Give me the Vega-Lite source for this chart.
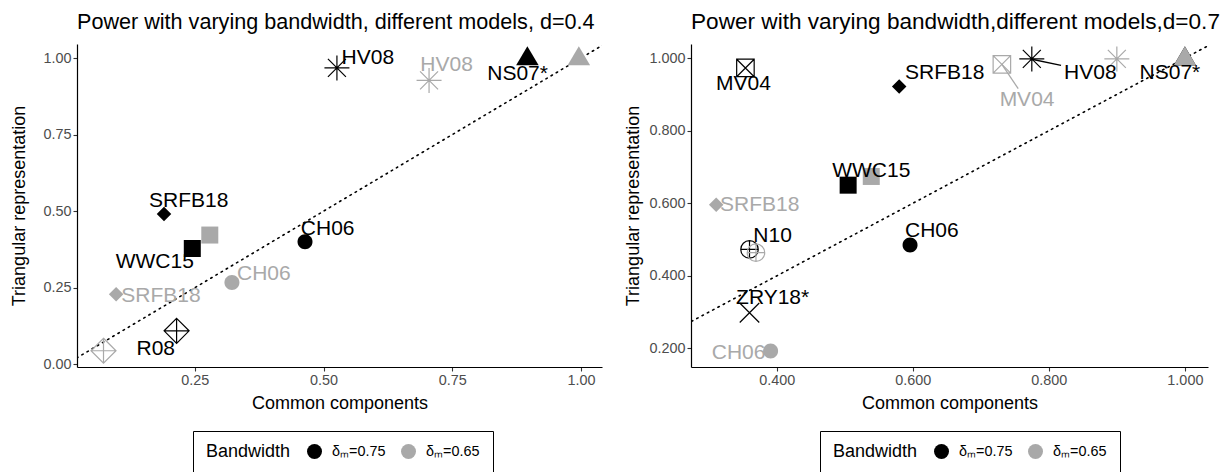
{
  "$schema": "https://vega.github.io/schema/vega-lite/v6.json",
  "padding": {"left": 10, "top": 11, "right": 5, "bottom": 5},
  "config": {
    "font": "Liberation Sans",
    "view": {"stroke": null},
    "axis": {"grid": false, "domainColor": "#000000", "domainWidth": 1.2, "tickColor": "#333333", "tickSize": 4, "tickWidth": 1.1, "labelColor": "#4d4d4d", "labelFontSize": 14.4, "labelFont": "Liberation Sans", "titleFont": "Liberation Sans", "titleFontSize": 18, "titleFontWeight": "normal", "titleColor": "#000000", "labelPadding": 2},
    "title": {"font": "Liberation Sans", "fontSize": 21.6, "fontWeight": "normal", "anchor": "start", "frame": "group", "color": "#000000", "offset": 10},
    "legend": {"orient": "none", "direction": "horizontal", "titleOrient": "left", "titleFont": "Liberation Sans", "titleFontSize": 18, "titleFontWeight": "normal", "titleColor": "#000000", "labelFont": "Liberation Sans", "labelFontSize": 14.4, "labelColor": "#000000", "strokeColor": "#000000", "padding": 13, "symbolType": "circle", "symbolSize": 225, "symbolStrokeWidth": 0, "columnPadding": 15, "labelOffset": 10, "titlePadding": 16},
    "concat": {"spacing": 22}
  },
  "datasets": {
    "p04": [
      {"model": "HV08", "bw": "δₘ=0.75", "x": 0.526, "y": 0.968},
      {"model": "NS07*", "bw": "δₘ=0.75", "x": 0.896, "y": 1.0},
      {"model": "SRFB18", "bw": "δₘ=0.75", "x": 0.19, "y": 0.491},
      {"model": "WWC15", "bw": "δₘ=0.75", "x": 0.245, "y": 0.378},
      {"model": "CH06", "bw": "δₘ=0.75", "x": 0.464, "y": 0.4},
      {"model": "R08", "bw": "δₘ=0.75", "x": 0.2145, "y": 0.109},
      {"model": "HV08", "bw": "δₘ=0.65", "x": 0.705, "y": 0.927},
      {"model": "NS07*", "bw": "δₘ=0.65", "x": 0.996, "y": 1.0},
      {"model": "WWC15", "bw": "δₘ=0.65", "x": 0.279, "y": 0.422},
      {"model": "CH06", "bw": "δₘ=0.65", "x": 0.322, "y": 0.267},
      {"model": "SRFB18", "bw": "δₘ=0.65", "x": 0.097, "y": 0.229},
      {"model": "R08", "bw": "δₘ=0.65", "x": 0.0725, "y": 0.044}
    ],
    "l04": [
      {"model": "HV08", "bw": "δₘ=0.75", "x": 0.586, "y": 1.0},
      {"model": "HV08", "bw": "δₘ=0.65", "x": 0.739, "y": 0.978},
      {"model": "NS07*", "bw": "δₘ=0.75", "x": 0.877, "y": 0.949},
      {"model": "SRFB18", "bw": "δₘ=0.75", "x": 0.238, "y": 0.534},
      {"model": "WWC15", "bw": "δₘ=0.75", "x": 0.172, "y": 0.335},
      {"model": "CH06", "bw": "δₘ=0.75", "x": 0.508, "y": 0.442},
      {"model": "CH06", "bw": "δₘ=0.65", "x": 0.384, "y": 0.294},
      {"model": "SRFB18", "bw": "δₘ=0.65", "x": 0.184, "y": 0.224},
      {"model": "R08", "bw": "δₘ=0.75", "x": 0.174, "y": 0.049}
    ],
    "p07": [
      {"model": "MV04", "bw": "δₘ=0.75", "x": 0.354, "y": 0.973},
      {"model": "HV08", "bw": "δₘ=0.75", "x": 0.775, "y": 0.998},
      {"model": "NS07*", "bw": "δₘ=0.75", "x": 1.0, "y": 1.0},
      {"model": "SRFB18", "bw": "δₘ=0.75", "x": 0.58, "y": 0.922},
      {"model": "WWC15", "bw": "δₘ=0.75", "x": 0.505, "y": 0.65},
      {"model": "CH06", "bw": "δₘ=0.75", "x": 0.596, "y": 0.485},
      {"model": "N10", "bw": "δₘ=0.75", "x": 0.36, "y": 0.473},
      {"model": "ZRY18*", "bw": "δₘ=0.75", "x": 0.36, "y": 0.2985},
      {"model": "MV04", "bw": "δₘ=0.65", "x": 0.731, "y": 0.983},
      {"model": "HV08", "bw": "δₘ=0.65", "x": 0.9, "y": 0.998},
      {"model": "NS07*", "bw": "δₘ=0.65", "x": 1.0, "y": 1.0},
      {"model": "SRFB18", "bw": "δₘ=0.65", "x": 0.311, "y": 0.596},
      {"model": "WWC15", "bw": "δₘ=0.65", "x": 0.539, "y": 0.674},
      {"model": "CH06", "bw": "δₘ=0.65", "x": 0.391, "y": 0.193},
      {"model": "N10", "bw": "δₘ=0.65", "x": 0.3695, "y": 0.464}
    ],
    "l07": [
      {"model": "MV04", "bw": "δₘ=0.75", "x": 0.351, "y": 0.929},
      {"model": "MV04", "bw": "δₘ=0.65", "x": 0.768, "y": 0.886},
      {"model": "HV08", "bw": "δₘ=0.75", "x": 0.861, "y": 0.959},
      {"model": "NS07*", "bw": "δₘ=0.75", "x": 0.978, "y": 0.959},
      {"model": "SRFB18", "bw": "δₘ=0.75", "x": 0.647, "y": 0.959},
      {"model": "WWC15", "bw": "δₘ=0.75", "x": 0.539, "y": 0.69},
      {"model": "SRFB18", "bw": "δₘ=0.65", "x": 0.375, "y": 0.596},
      {"model": "CH06", "bw": "δₘ=0.75", "x": 0.628, "y": 0.524},
      {"model": "N10", "bw": "δₘ=0.75", "x": 0.394, "y": 0.51},
      {"model": "ZRY18*", "bw": "δₘ=0.75", "x": 0.394, "y": 0.34},
      {"model": "CH06", "bw": "δₘ=0.65", "x": 0.344, "y": 0.188}
    ],
    "s07": [
      {"model": "HV08", "bw": "δₘ=0.75", "x": 0.775, "y": 0.997, "x2": 0.818, "y2": 0.98},
      {"model": "MV04", "bw": "δₘ=0.65", "x": 0.731, "y": 0.983, "x2": 0.755, "y2": 0.916}
    ],
    "diag": [
      {"x": -0.2, "y": -0.2},
      {"x": 1.2, "y": 1.2}
    ]
  },
  "hconcat": [
    {
      "width": 525,
      "height": 323,
      "title": "Power with varying bandwidth, different models, d=0.4",
      "encoding": {
        "x": {"field": "x", "type": "quantitative", "scale": {"domain": [0.021, 1.041], "nice": false, "zero": false}, "axis": {"title": "Common components", "values": [0.25, 0.5, 0.75, 1.0], "format": ".2f", "titlePadding": 8}},
        "y": {"field": "y", "type": "quantitative", "scale": {"domain": [-0.009, 1.046], "nice": false, "zero": false}, "axis": {"title": "Triangular representation", "values": [0, 0.25, 0.5, 0.75, 1.0], "format": ".2f", "titlePadding": 14}}
      },
      "layer": [
        {"data": {"name": "diag"}, "mark": {"type": "line", "clip": true, "color": "#000000", "strokeDash": [1.5, 4.5], "strokeWidth": 1.6, "strokeCap": "round"}, "encoding": {}},
        {
          "data": {"name": "p04"},
          "transform": [{"filter": {"field": "model", "oneOf": ["CH06", "WWC15", "NS07*", "SRFB18"]}}],
          "mark": {"type": "point", "filled": true, "size": 625, "opacity": 1, "strokeWidth": 0},
          "encoding": {
            "color": {"field": "bw", "type": "nominal", "scale": {"domain": ["δₘ=0.75", "δₘ=0.65"], "range": ["#000000", "#a9a9a9"]}, "legend": {"title": "Bandwidth", "legendX": 116, "legendY": 387}},
            "shape": {"field": "model", "type": "nominal", "legend": null, "scale": {"domain": ["CH06", "WWC15", "NS07*", "SRFB18", "HV08", "R08", "MV04", "N10", "ZRY18*"], "range": ["M -0.6 0 A 0.6 0.6 0 1 0 0.6 0 A 0.6 0.6 0 1 0 -0.6 0 Z", "M -0.68 -0.68 L 0.68 -0.68 L 0.68 0.68 L -0.68 0.68 Z", "M 0 -0.95 L 0.9 0.58 L -0.9 0.58 Z", "M 0 -0.58 L 0.58 0 L 0 0.58 L -0.58 0 Z", "M -1 0 L 1 0 M 0 -1 L 0 1 M -0.72 -0.72 L 0.72 0.72 M -0.72 0.72 L 0.72 -0.72", "M 0 -1 L 1 0 L 0 1 L -1 0 Z M 0 -1 L 0 1 M -1 0 L 1 0", "M -0.7 -0.7 L 0.7 -0.7 L 0.7 0.7 L -0.7 0.7 Z M -0.7 -0.7 L 0.7 0.7 M -0.7 0.7 L 0.7 -0.7", "M -0.7 0 A 0.7 0.7 0 1 0 0.7 0 A 0.7 0.7 0 1 0 -0.7 0 Z M -0.7 0 L 0.7 0 M 0 -0.7 L 0 0.7", "M -0.78 -0.78 L 0.78 0.78 M -0.78 0.78 L 0.78 -0.78"]}}
          }
        },
        {
          "data": {"name": "p04"},
          "transform": [{"filter": {"not": {"field": "model", "oneOf": ["CH06", "WWC15", "NS07*", "SRFB18"]}}}],
          "mark": {"type": "point", "filled": false, "size": 625, "opacity": 1, "strokeWidth": 1.2},
          "encoding": {
            "color": {"field": "bw", "type": "nominal", "legend": null},
            "shape": {"field": "model", "type": "nominal", "legend": null}
          }
        },
        {
          "data": {"name": "l04"},
          "mark": {"type": "text", "fontSize": 21, "align": "center", "baseline": "middle", "font": "Liberation Sans"},
          "encoding": {
            "text": {"field": "model", "type": "nominal"},
            "color": {"field": "bw", "type": "nominal", "legend": null}
          }
        }
      ]
    },
    {
      "width": 517,
      "height": 323,
      "title": {"text": "Power with varying bandwidth,different models,d=0.7", "fontSize": 22.6},
      "encoding": {
        "x": {"field": "x", "type": "quantitative", "scale": {"domain": [0.274, 1.034], "nice": false, "zero": false}, "axis": {"title": "Common components", "values": [0.4, 0.6, 0.8, 1.0], "format": ".3f", "titlePadding": 8}},
        "y": {"field": "y", "type": "quantitative", "scale": {"domain": [0.149, 1.039], "nice": false, "zero": false}, "axis": {"title": "Triangular representation", "values": [0.2, 0.4, 0.6, 0.8, 1.0], "format": ".3f", "titlePadding": 6}}
      },
      "layer": [
        {"data": {"name": "diag"}, "mark": {"type": "line", "clip": true, "color": "#000000", "strokeDash": [1.5, 4.5], "strokeWidth": 1.6, "strokeCap": "round"}, "encoding": {}},
        {
          "data": {"name": "p07"},
          "transform": [{"filter": {"field": "model", "oneOf": ["CH06", "WWC15", "NS07*", "SRFB18"]}}],
          "mark": {"type": "point", "filled": true, "size": 625, "opacity": 1, "strokeWidth": 0},
          "encoding": {
            "color": {"field": "bw", "type": "nominal", "scale": {"domain": ["δₘ=0.75", "δₘ=0.65"], "range": ["#000000", "#a9a9a9"]}, "legend": {"title": "Bandwidth", "legendX": 129, "legendY": 387}},
            "shape": {"field": "model", "type": "nominal", "legend": null, "scale": {"domain": ["CH06", "WWC15", "NS07*", "SRFB18", "HV08", "R08", "MV04", "N10", "ZRY18*"], "range": ["M -0.6 0 A 0.6 0.6 0 1 0 0.6 0 A 0.6 0.6 0 1 0 -0.6 0 Z", "M -0.68 -0.68 L 0.68 -0.68 L 0.68 0.68 L -0.68 0.68 Z", "M 0 -0.95 L 0.9 0.58 L -0.9 0.58 Z", "M 0 -0.58 L 0.58 0 L 0 0.58 L -0.58 0 Z", "M -1 0 L 1 0 M 0 -1 L 0 1 M -0.72 -0.72 L 0.72 0.72 M -0.72 0.72 L 0.72 -0.72", "M 0 -1 L 1 0 L 0 1 L -1 0 Z M 0 -1 L 0 1 M -1 0 L 1 0", "M -0.7 -0.7 L 0.7 -0.7 L 0.7 0.7 L -0.7 0.7 Z M -0.7 -0.7 L 0.7 0.7 M -0.7 0.7 L 0.7 -0.7", "M -0.7 0 A 0.7 0.7 0 1 0 0.7 0 A 0.7 0.7 0 1 0 -0.7 0 Z M -0.7 0 L 0.7 0 M 0 -0.7 L 0 0.7", "M -0.78 -0.78 L 0.78 0.78 M -0.78 0.78 L 0.78 -0.78"]}}
          }
        },
        {
          "data": {"name": "p07"},
          "transform": [{"filter": {"not": {"field": "model", "oneOf": ["CH06", "WWC15", "NS07*", "SRFB18"]}}}],
          "mark": {"type": "point", "filled": false, "size": 625, "opacity": 1, "strokeWidth": 1.2},
          "encoding": {
            "color": {"field": "bw", "type": "nominal", "legend": null},
            "shape": {"field": "model", "type": "nominal", "legend": null}
          }
        },
        {"data": {"name": "s07"}, "mark": {"type": "rule", "strokeWidth": 1.3}, "encoding": {"x2": {"field": "x2"}, "y2": {"field": "y2"}, "color": {"field": "bw", "type": "nominal", "legend": null}}},
        {
          "data": {"name": "l07"},
          "mark": {"type": "text", "fontSize": 21, "align": "center", "baseline": "middle", "font": "Liberation Sans"},
          "encoding": {
            "text": {"field": "model", "type": "nominal"},
            "color": {"field": "bw", "type": "nominal", "legend": null}
          }
        }
      ]
    }
  ],
  "resolve": {"scale": {"color": "independent", "shape": "independent"}, "legend": {"color": "independent"}}
}
